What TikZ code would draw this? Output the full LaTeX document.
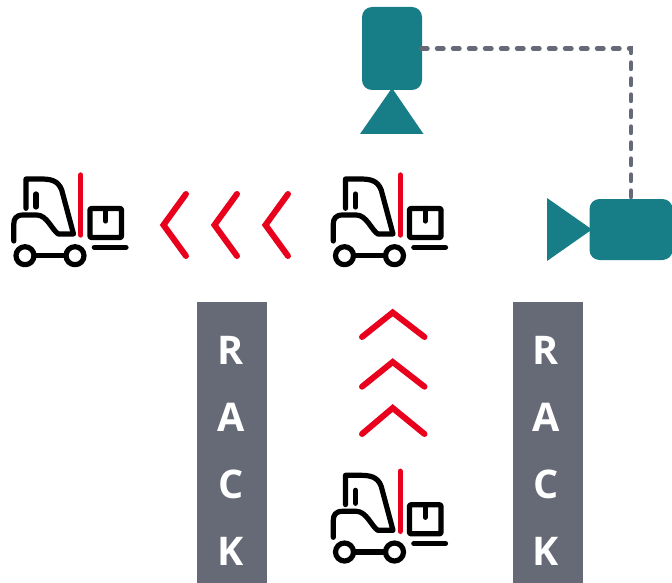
\documentclass[tikz,border=0pt]{standalone}
\usepackage{fontspec}
\setmainfont{Open Sans}
\definecolor{teal1}{HTML}{177D87}
\definecolor{red1}{HTML}{E8001C}
\definecolor{gray1}{HTML}{666A76}
\tikzset{
  rackbox/.style={draw=none,fill=gray1,minimum width=70pt,minimum height=281pt,inner sep=0pt,outer sep=0pt},
  rackletter/.style={text=white,font=\fontsize{39.5}{39.5}\selectfont\bfseries,anchor=base,inner sep=0pt},
  camerabody/.style={fill=teal1,rounded corners=10pt,inner sep=0pt,outer sep=0pt},
  lens/.style={fill=teal1},
  chevron/.style={draw=red1,line width=6pt,line cap=round,line join=miter},
  link/.style={draw=gray1,line width=4.4pt,line cap=round,dash pattern=on 6.5pt off 9.5pt},
  truck/.style={draw=black,line width=5.2pt,line cap=round,line join=round},
  pics/forklift/.style={code={
    \draw[truck] (26,208.3) -- (26,179) -- (40,179) .. controls (50,179) and (58,180) .. (61.7,190) -- (73.5,234) -- (58.3,234) .. controls (52,230) and (47,215) .. (36.7,215) -- (23,215) .. controls (16,215) and (13.8,219) .. (13.8,224) -- (13.8,241);
    \draw[truck] (36,194) -- (36,207);
    \draw[truck] (25,255.7) circle (9pt);
    \draw[truck] (75,255.7) circle (9pt);
    \draw[truck] (34,255.7) -- (66,255.7);
    \draw[truck] (94.3,247.3) -- (126,247.3);
    \draw[truck,rounded corners=1pt] (90,208.5) rectangle (121.5,237.5);
    \draw[truck] (105.7,208.5) -- (105.7,221);
    \draw[draw=red1,line width=5.4pt,line cap=round] (80.7,175) -- (80.7,235);
  }}
}
\begin{document}
\begin{tikzpicture}[x=1pt,y=-1pt]
\useasboundingbox (0,0) rectangle (672,583);
\node[camerabody,minimum width=60pt,minimum height=83pt] (camA) at (392,48.5) {};
\node[camerabody,minimum width=83pt,minimum height=61pt] (camB) at (631,229.5) {};
\coordinate (bend) at (camB.north |- camA.east);
\coordinate (linkstart) at ([xshift=-1pt]camA.east);
\draw[link] (linkstart) -- (bend) -- (camB.north);
\fill[lens] (360,134) -- (423.5,134) -- (392,88) -- cycle;
\fill[lens] (547,198) -- (547,261) -- (592,229.5) -- cycle;
\pic at (0,0) {forklift};
\pic at (319.5,0) {forklift};
\pic at (319.5,296.3) {forklift};
\draw[chevron] (186,194) -- (163.5,225) -- (186,256);
\draw[chevron] (237,194) -- (214.5,225) -- (237,256);
\draw[chevron] (288,194) -- (265.5,225) -- (288,256);
\draw[chevron] (362,337) -- (392.7,312.5) -- (424.5,337);
\draw[chevron] (362,386.7) -- (392.7,362) -- (424.5,386.7);
\draw[chevron] (362,434) -- (392.7,408) -- (424.5,434);
\node[rackbox] (rackL) at (232,442.5) {};
\node[rackbox] (rackR) at (548,442.5) {};
\node[rackletter] (l1) at (231,364) {R};
\node[rackletter] (l2) at (231,431) {A};
\node[rackletter] (l3) at (231,498) {C};
\node[rackletter] (l4) at (231,565.5) {K};
\node[rackletter] (r1) at (546,364) {R};
\node[rackletter] (r2) at (546,431) {A};
\node[rackletter] (r3) at (546,498) {C};
\node[rackletter] (r4) at (546,565.5) {K};
\end{tikzpicture}
\end{document}
